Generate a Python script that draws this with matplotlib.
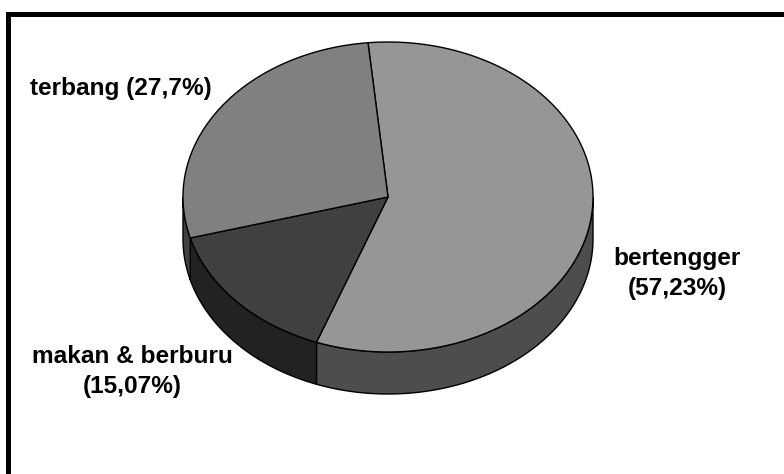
import numpy as np
import matplotlib
matplotlib.use('Agg')
import matplotlib.pyplot as plt
from matplotlib.patches import Polygon

# data
names = ['bertengger', 'makan & berburu', 'terbang']
values = [57.23, 15.07, 27.7]
labels = ['bertengger\n(57,23%)', 'makan & berburu\n(15,07%)', 'terbang (27,7%)']
top_colors = ['#969696', '#404040', '#808080']
side_colors = ['#4d4d4d', '#222222', '#404040']

# pie geometry in pixels
cx, cy = 388, 197
rx, ry = 205, 155
depth = 42
start = 95.6

def pt(t, dy=0):
    t = np.radians(t)
    return cx + rx*np.cos(t), cy - ry*np.sin(t) + dy

fig = plt.figure(figsize=(7.84, 4.74), dpi=100)
ax = fig.add_axes([0, 0, 1, 1])
ax.set_xlim(0, 784)
ax.set_ylim(474, 0)
ax.axis('off')

fracs = np.array(values) / np.sum(values)
ends = start - np.cumsum(fracs) * 360
starts = np.concatenate([[start], ends[:-1]])

# sides (visible front half: angles between -180 and 0)
for a1, a2, c in zip(starts, ends, side_colors):
    segs = []
    hi, lo = min(a1, 0), max(a2, -180)
    if hi > lo:
        segs.append((lo, hi))
    if a2 < -180:
        hi2, lo2 = min(a1 + 360, 0), max(a2 + 360, -180)
        if hi2 > lo2:
            segs.append((lo2, hi2))
    for lo_, hi_ in segs:
        t = np.linspace(hi_, lo_, 100)
        xs, ys = pt(t)
        xb, yb = pt(t[::-1], depth)
        poly = np.column_stack([np.concatenate([xs, xb]), np.concatenate([ys, yb])])
        ax.add_patch(Polygon(poly, closed=True, fc=c, ec='black', lw=1))

# tops
for a1, a2, c in zip(starts, ends, top_colors):
    t = np.linspace(a1, a2, 200)
    xs, ys = pt(t)
    poly = np.column_stack([np.concatenate([[cx], xs]), np.concatenate([[cy], ys])])
    ax.add_patch(Polygon(poly, closed=True, fc=c, ec='black', lw=1))

# labels
font = dict(family='Liberation Sans', weight='bold', fontsize=17.6, color='black')
ax.text(677, 295, labels[0], ha='center', va='baseline', multialignment='center',
        linespacing=1.4, **font)
ax.text(132, 393, labels[1], ha='center', va='baseline', multialignment='center',
        linespacing=1.4, **font)
ax.text(30, 95, labels[2], ha='left', va='baseline', **font)

# frame
ax.plot([8.5, 8.5, 784], [474, 13.5, 13.5], color='black', lw=3.6,
        solid_capstyle='projecting', solid_joinstyle='miter')

fig.savefig('out.png', dpi=100)
